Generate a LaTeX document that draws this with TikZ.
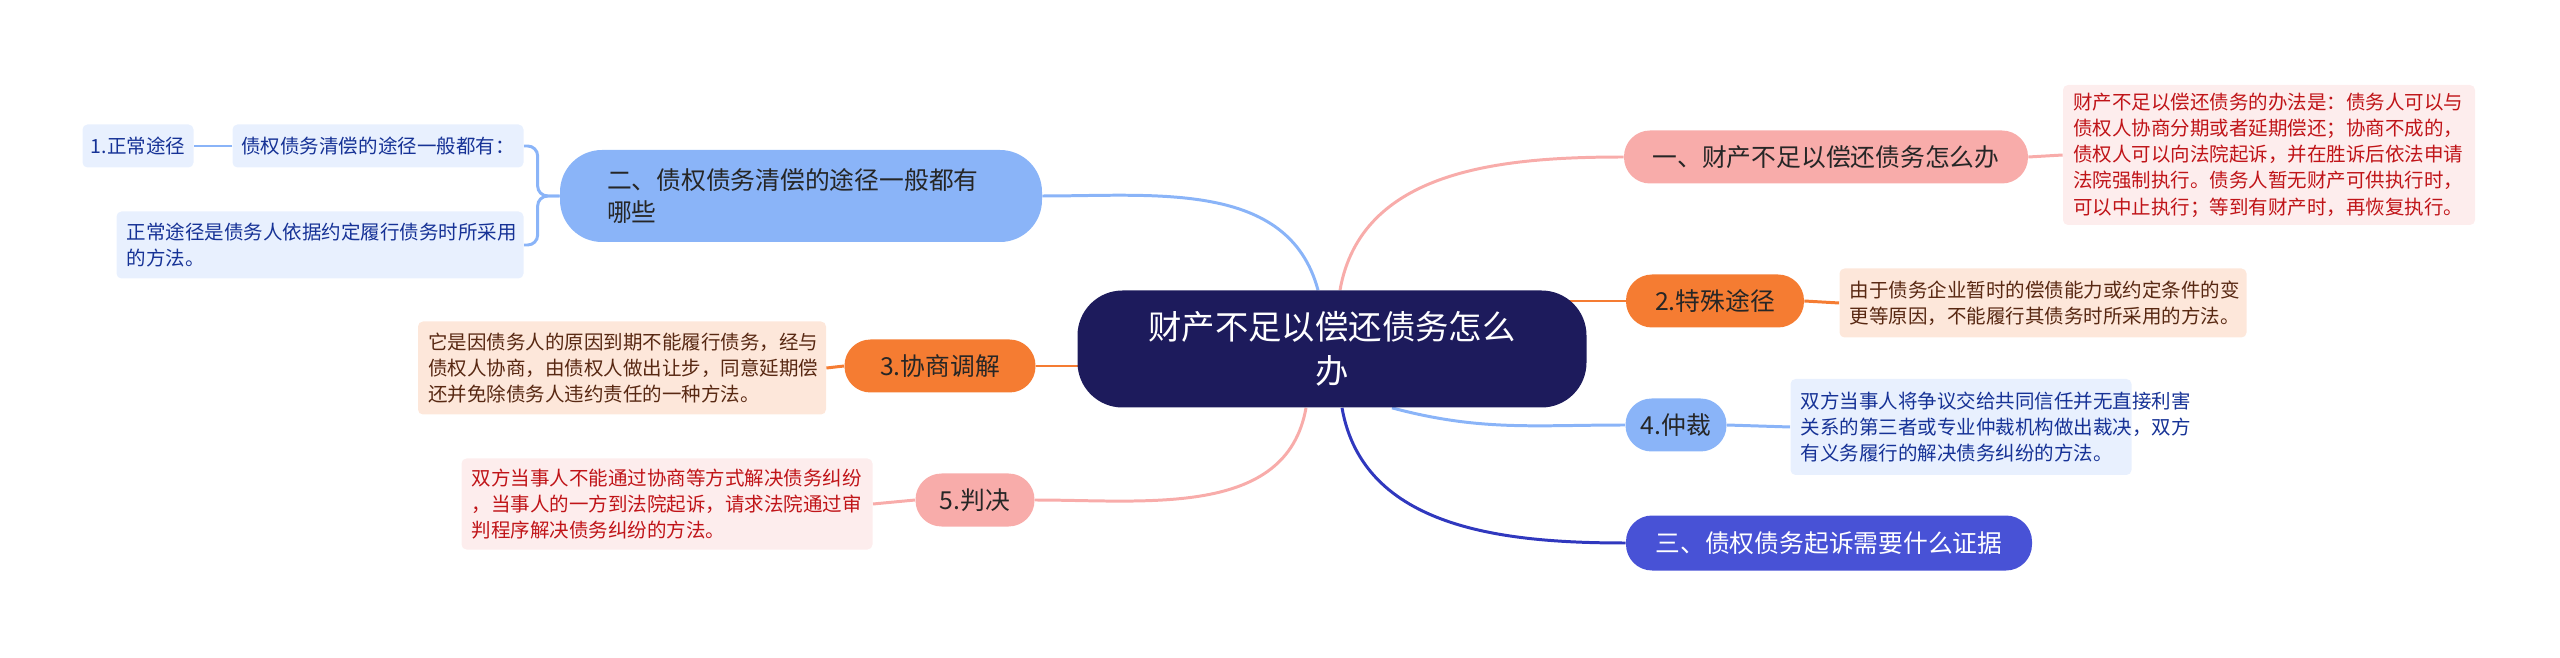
\documentclass[tikz,border=0pt]{standalone}
\usepackage{fontspec}
\setmainfont{Noto Sans CJK SC}
\usepackage{xcolor}
\usepackage{tikz}
\usetikzlibrary{positioning}

\definecolor{rootblue}{RGB}{29,27,92}
\definecolor{pinkfill}{RGB}{248,172,170}
\definecolor{pinkbox}{RGB}{253,237,237}
\definecolor{pinktext}{RGB}{192,20,24}
\definecolor{orangefill}{RGB}{245,124,50}
\definecolor{orangebox}{RGB}{253,231,218}
\definecolor{orangetext}{RGB}{88,40,18}
\definecolor{skyfill}{RGB}{138,180,248}
\definecolor{skybox}{RGB}{232,240,254}
\definecolor{skytext}{RGB}{22,50,150}
\definecolor{indigofill}{RGB}{72,82,214}
\definecolor{indigoline}{RGB}{48,56,190}

\pgfdeclarelayer{bg}
\pgfsetlayers{bg,main}

\tikzset{
  rootnode/.style={fill=rootblue,text=white,rounded corners=45*0.02cm,align=center,
    minimum width=509*0.02cm,minimum height=117*0.02cm,inner sep=0pt,
    font=\fontsize{19}{25}\selectfont},
  branch/.style={rounded corners=26*0.02cm,minimum height=53*0.02cm,inner sep=0pt,
    text=black!85,font=\fontsize{14.1}{18.6}\selectfont},
  detail/.style={rounded corners=5*0.02cm,inner xsep=4pt,inner ysep=0pt,align=left,
    font=\fontsize{11.1}{14.9}\selectfont},
  link/.style={line width=1.7pt}
}

\begin{document}
\begin{tikzpicture}[x=0.02cm,y=-0.02cm]
  \useasboundingbox (0,0) rectangle (2560,658);
  % centre
  \node[rootnode] (root) at (1332,349) {财产不足以偿还债务怎么\\办};
  % right side
  \node[branch,fill=pinkfill,minimum width=404*0.02cm] (one) at (1826,157) {一、财产不足以偿还债务怎么办};
  \node[detail,fill=pinkbox,text=pinktext,minimum width=412*0.02cm,minimum height=140*0.02cm,text width=392*0.02cm] (onetxt) at (2269,155)
    {财产不足以偿还债务的办法是：债务人可以与\\债权人协商分期或者延期偿还；协商不成的，\\债权人可以向法院起诉，并在胜诉后依法申请\\法院强制执行。债务人暂无财产可供执行时，\\可以中止执行；等到有财产时，再恢复执行。};
  \node[branch,fill=orangefill,minimum width=178*0.02cm] (special) at (1715,301) {2.特殊途径};
  \node[detail,fill=orangebox,text=orangetext,minimum width=407*0.02cm,minimum height=69*0.02cm,text width=387*0.02cm] (specialtxt) at (2043,303)
    {由于债务企业暂时的偿债能力或约定条件的变\\更等原因，不能履行其债务时所采用的方法。};
  \node[branch,fill=skyfill,minimum width=101*0.02cm] (arbit) at (1676,425) {4.仲裁};
  \node[detail,fill=skybox,text=skytext,minimum width=341*0.02cm,minimum height=96*0.02cm,text width=321*0.02cm] (arbittxt) at (1961,427)
    {双方当事人将争议交给共同信任并无直接利害\\关系的第三者或专业仲裁机构做出裁决，双方\\有义务履行的解决债务纠纷的方法。};
  \node[branch,fill=indigofill,text=white,minimum width=406*0.02cm,minimum height=55*0.02cm] (three) at (1829,543) {三、债权债务起诉需要什么证据};
  % left side
  \node[branch,fill=skyfill,minimum width=482*0.02cm,minimum height=92*0.02cm,rounded corners=42*0.02cm,
    text width=388*0.02cm,align=left] (two) at (801,196) {二、债权债务清偿的途径一般都有\\哪些};
  \node[detail,fill=skybox,text=skytext,minimum width=291*0.02cm,minimum height=43*0.02cm] (ways) at (378,146) {债权债务清偿的途径一般都有：};
  \node[detail,fill=skybox,text=skytext,minimum width=111*0.02cm,minimum height=43*0.02cm] (normal) at (138,146) {1.正常途径};
  \node[detail,fill=skybox,text=skytext,minimum width=407*0.02cm,minimum height=67*0.02cm,text width=387*0.02cm] (normaltxt) at (320,245)
    {正常途径是债务人依据约定履行债务时所采用\\的方法。};
  \node[branch,fill=orangefill,minimum width=191*0.02cm] (consult) at (940,366) {3.协商调解};
  \node[detail,fill=orangebox,text=orangetext,minimum width=408*0.02cm,minimum height=93*0.02cm,text width=388*0.02cm] (consulttxt) at (622,368)
    {它是因债务人的原因到期不能履行债务，经与\\债权人协商，由债权人做出让步，同意延期偿\\还并免除债务人违约责任的一种方法。};
  \node[branch,fill=pinkfill,minimum width=119*0.02cm] (judge) at (975,500) {5.判决};
  \node[detail,fill=pinkbox,text=pinktext,minimum width=411*0.02cm,minimum height=91*0.02cm,text width=391*0.02cm] (judgetxt) at (667,504)
    {双方当事人不能通过协商等方式解决债务纠纷\\，当事人的一方到法院起诉，请求法院通过审\\判程序解决债务纠纷的方法。};
  % connectors
  \begin{pgfonlayer}{bg}
    \draw[link,pinkfill] ([xshift=8*0.02cm]root.north) to[out=80,in=180] (one.west);
    \draw[link,skyfill] ([xshift=-14*0.02cm]root.north) to[out=105,in=0] (two.east);
    \draw[link,orangefill] (special.west) -- (special.west -| root.center);
    \draw[link,orangefill] (consult.east) -- (consult.east -| root.center);
    \draw[link,skyfill] ([xshift=60*0.02cm]root.south) to[out=-15,in=180] (arbit.west);
    \draw[link,indigoline] ([xshift=10*0.02cm]root.south) to[out=-80,in=180] (three.west);
    \draw[link,pinkfill] ([xshift=-26*0.02cm]root.south) to[out=-100,in=0] (judge.east);
    \draw[link,pinkfill] (one.east) -- (onetxt.west);
    \draw[link,orangefill] (special.east) -- (specialtxt.west);
    \draw[link,skyfill] (arbit.east) -- (arbittxt.west);
    \draw[link,orangefill] (consult.west) -- (consulttxt.east);
    \draw[link,pinkfill] (judge.west) -- (judgetxt.east);
    \draw[link,skyfill,rounded corners=10*0.02cm] (two.west) -- ++(-22,0) |- (ways.east);
    \draw[link,skyfill,rounded corners=10*0.02cm] (two.west) -- ++(-22,0) |- (normaltxt.east);
    \draw[link,skyfill] (ways.west) -- (normal.east);
  \end{pgfonlayer}
\end{tikzpicture}
\end{document}
